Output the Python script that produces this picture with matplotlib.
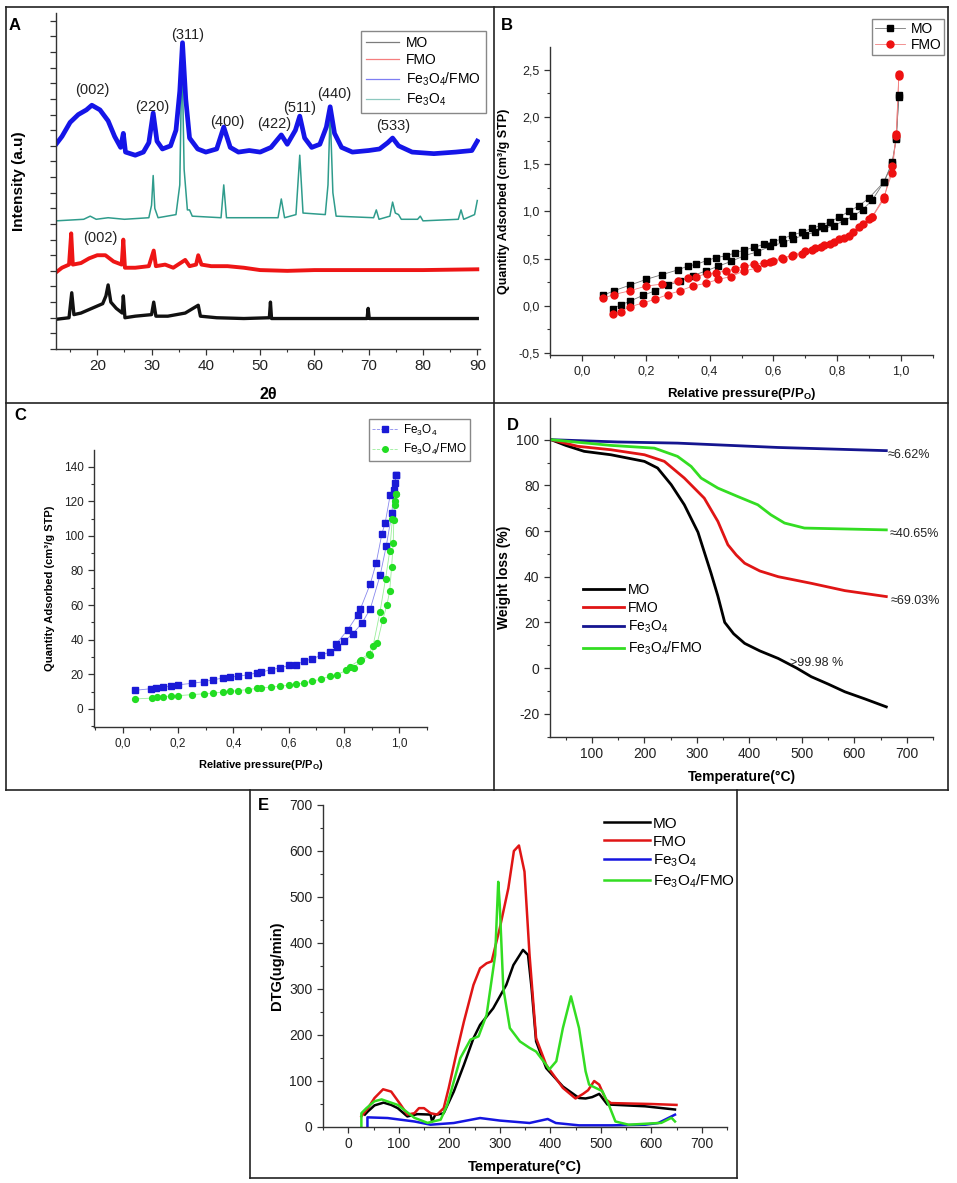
import matplotlib
matplotlib.use("Agg")
import matplotlib.pyplot as plt
from matplotlib.lines import Line2D
from matplotlib.ticker import MultipleLocator, FuncFormatter

plt.rcParams['font.family'] = ['Liberation Sans', 'DejaVu Sans']
plt.rcParams['mathtext.default'] = 'regular'
plt.rcParams['axes.unicode_minus'] = False

# ---------------- data ----------------
# A: XRD patterns (2theta, intensity a.u., stacked)
xrd_mo_x = [12.4, 14.8, 15.3, 15.7, 17, 19, 21, 21.6, 22.0, 22.5, 23.5, 24.6, 24.8, 25.1, 27, 30.0, 30.4,
            30.8, 33, 36.2, 38.6, 39, 42, 47, 51.7, 51.9, 52.1, 60, 69.7, 69.9, 70.1, 80, 90]
xrd_mo_y = [1.9, 2.0, 3.6, 2.2, 2.3, 2.6, 2.9, 3.4, 4.1, 3.0, 2.6, 2.3, 3.4, 2.0, 2.1, 2.2, 3.0,
            2.1, 2.1, 2.3, 2.8, 2.1, 2.0, 1.95, 2.0, 3.0, 1.95, 1.95, 1.95, 2.6, 1.95, 1.95, 1.95]
xrd_fmo_x = [12.4, 13.5, 14.8, 15.2, 15.5, 17, 18.5, 20.0, 21.5, 23, 24.5, 24.8, 25.1, 27, 29.5, 30.4, 30.8,
             32.5, 34, 36.2, 37, 38.2, 38.6, 39.2, 41, 44, 47, 50, 55, 60, 70, 80, 90]
xrd_fmo_y = [4.9, 5.2, 5.4, 7.4, 5.4, 5.5, 5.8, 6.0, 6.0, 5.6, 5.4, 7.0, 5.2, 5.2, 5.3, 6.3, 5.3,
             5.4, 5.2, 5.7, 5.3, 5.4, 6.0, 5.4, 5.3, 5.3, 5.2, 5.05, 5.0, 5.05, 5.05, 5.05, 5.1]
xrd_fe_x = [12.4, 17.5, 18.7, 19.8, 22, 25, 29.5, 30.0, 30.3, 30.6, 31.2, 34.5, 35.2, 35.6, 36.0, 36.6, 37.0,
            37.5, 42.8, 43.3, 43.8, 53.3, 53.9, 54.5, 56.6, 57.3, 57.9, 62.0, 62.5, 62.9, 63.4, 64.0, 70.9,
            71.4, 71.9, 73.9, 74.4, 74.9, 75.5, 76, 79.0, 79.5, 80, 86.5, 87.0, 87.5, 89.5, 90]
xrd_fe_y = [8.2, 8.3, 8.5, 8.3, 8.4, 8.3, 8.4, 9.2, 11.1, 9.0, 8.4, 8.6, 10.5, 19.0, 11.5, 8.9, 8.9,
            8.5, 8.4, 10.5, 8.4, 8.4, 9.6, 8.4, 8.6, 12.4, 8.7, 8.6, 10.5, 15.2, 10.0, 8.5, 8.4,
            8.9, 8.3, 8.5, 9.4, 8.7, 8.6, 8.3, 8.3, 8.5, 8.2, 8.3, 8.9, 8.3, 8.6, 9.5]
xrd_fefmo_x = [12.4, 13.5, 15.0, 16.5, 18.0, 19.0, 20.5, 22.0, 23.2, 24.3, 24.8, 25.2, 27.0, 28.5, 29.5, 30.3,
               31.0, 32.0, 33.5, 34.5, 35.2, 35.7, 36.3, 37.0, 38.5, 40.0, 42.0, 43.3, 44.5, 46.0, 48.0,
               50.0, 52.0, 53.9, 55.0, 56.5, 57.3, 58.2, 59.5, 61.0, 62.2, 62.9, 63.7, 65.0, 67.0, 70.0,
               72.0, 73.5, 74.4, 75.5, 78.0, 82.0, 86.0, 89.0, 90.0]
xrd_fefmo_y = [13.1, 13.6, 14.5, 15.0, 15.3, 15.6, 15.3, 14.6, 13.6, 12.9, 13.8, 12.6, 12.4, 12.6, 13.2, 15.1,
               13.3, 12.8, 13.0, 14.0, 16.5, 19.6, 16.0, 13.5, 12.8, 12.6, 12.8, 14.2, 12.9, 12.6, 12.7,
               12.6, 12.9, 13.7, 13.1, 14.0, 14.9, 13.5, 12.9, 13.1, 14.2, 15.5, 13.8, 12.9, 12.6, 12.7,
               12.8, 13.2, 13.5, 13.0, 12.6, 12.5, 12.6, 12.7, 13.3]
peak_labels = ['(002)', '(220)', '(311)', '(400)', '(422)', '(511)', '(440)', '(533)', '(002)']
peak_x = [19.1, 30.1, 36.6, 43.9, 52.6, 57.2, 63.6, 74.5, 20.6]
peak_y = [16.6, 15.5, 20.1, 14.55, 14.4, 15.4, 16.3, 14.3, 7.1]

# B: N2 isotherms, MO and FMO
b_mo_des_p = [0.066, 0.10, 0.151, 0.201, 0.25, 0.30, 0.331, 0.359, 0.391, 0.42, 0.451, 0.48, 0.508, 0.54,
              0.569, 0.599, 0.628, 0.659, 0.69, 0.72, 0.748, 0.776, 0.807, 0.836, 0.868, 0.899, 0.946,
              0.972, 0.985, 0.993]
b_mo_des_q = [0.11, 0.16, 0.22, 0.28, 0.33, 0.38, 0.42, 0.44, 0.48, 0.51, 0.53, 0.56, 0.59, 0.62, 0.65,
              0.68, 0.71, 0.75, 0.78, 0.82, 0.85, 0.89, 0.94, 1.00, 1.06, 1.14, 1.31, 1.52, 1.78, 2.23]
b_mo_ads_p = [0.097, 0.121, 0.151, 0.19, 0.23, 0.269, 0.308, 0.347, 0.389, 0.427, 0.467, 0.508, 0.548,
              0.59, 0.63, 0.66, 0.70, 0.73, 0.76, 0.79, 0.82, 0.85, 0.88, 0.91, 0.946, 0.972, 0.985, 0.993]
b_mo_ads_q = [-0.03, 0.01, 0.05, 0.11, 0.16, 0.22, 0.26, 0.32, 0.37, 0.42, 0.47, 0.53, 0.57,
              0.63, 0.67, 0.71, 0.75, 0.78, 0.82, 0.85, 0.90, 0.95, 1.02, 1.12, 1.31, 1.50, 1.77, 2.21]
b_fmo_des_p = [0.066, 0.10, 0.151, 0.201, 0.25, 0.30, 0.331, 0.359, 0.391, 0.42, 0.451, 0.48, 0.508, 0.54,
               0.569, 0.599, 0.628, 0.659, 0.69, 0.72, 0.748, 0.776, 0.807, 0.836, 0.868, 0.899, 0.909,
               0.946, 0.972, 0.985, 0.993]
b_fmo_des_q = [0.08, 0.12, 0.16, 0.21, 0.23, 0.26, 0.29, 0.31, 0.34, 0.35, 0.37, 0.39, 0.42, 0.44, 0.45,
               0.48, 0.51, 0.53, 0.55, 0.59, 0.62, 0.66, 0.71, 0.74, 0.83, 0.92, 0.94, 1.15, 1.41, 1.82, 2.45]
b_fmo_ads_p = [0.097, 0.121, 0.151, 0.19, 0.23, 0.269, 0.308, 0.347, 0.389, 0.427, 0.467, 0.508, 0.548,
               0.59, 0.63, 0.66, 0.70, 0.73, 0.76, 0.79, 0.82, 0.85, 0.88, 0.91, 0.946, 0.972, 0.985, 0.993]
b_fmo_ads_q = [-0.09, -0.06, -0.01, 0.03, 0.07, 0.12, 0.16, 0.21, 0.24, 0.28, 0.31, 0.37, 0.40,
               0.46, 0.50, 0.54, 0.58, 0.61, 0.64, 0.68, 0.72, 0.78, 0.87, 0.94, 1.13, 1.48, 1.80, 2.43]

# C: N2 isotherms, Fe3O4 and Fe3O4/FMO
c_fe_ads_p = [0.045, 0.101, 0.119, 0.145, 0.174, 0.201, 0.25, 0.294, 0.328, 0.364, 0.388, 0.415, 0.451,
              0.485, 0.50, 0.536, 0.569, 0.60, 0.626, 0.654, 0.685, 0.717, 0.748, 0.774, 0.80, 0.832,
              0.865, 0.895, 0.931, 0.953, 0.973, 0.979, 0.989]
c_fe_ads_q = [10.8, 11.7, 12.1, 12.7, 13.1, 14.0, 14.8, 15.8, 16.9, 17.9, 18.5, 18.8, 19.8,
              20.8, 21.3, 22.7, 23.7, 25.2, 25.6, 27.5, 29.0, 31.0, 32.9, 35.8, 39.0, 43.5,
              49.6, 57.9, 77.5, 94.4, 113.0, 126.5, 135.2]
c_fe_des_p = [0.772, 0.814, 0.849, 0.859, 0.895, 0.916, 0.937, 0.949, 0.967, 0.983, 0.989]
c_fe_des_q = [37.7, 45.8, 54.4, 57.7, 72.3, 84.2, 101.2, 107.7, 123.7, 130.4, 135.2]
c_fefmo_ads_p = [0.045, 0.105, 0.123, 0.145, 0.174, 0.201, 0.25, 0.294, 0.328, 0.362, 0.388, 0.415, 0.451,
                 0.485, 0.50, 0.536, 0.569, 0.60, 0.626, 0.654, 0.685, 0.717, 0.748, 0.774, 0.808, 0.835,
                 0.859, 0.895, 0.92, 0.94, 0.955, 0.965, 0.972, 0.978, 0.98, 0.985, 0.989]
c_fefmo_ads_q = [5.8, 6.3, 6.7, 7.1, 7.5, 7.7, 8.3, 8.8, 9.2, 9.8, 10.2, 10.6, 11.2,
                 11.9, 12.1, 12.7, 13.1, 13.8, 14.4, 15.0, 16.0, 17.3, 18.8, 19.8, 22.3, 23.7,
                 27.5, 31.3, 38.0, 51.5, 60.0, 68.0, 82.0, 96.0, 109.0, 118.0, 124.0]
c_fefmo_des_p = [0.82, 0.86, 0.89, 0.905, 0.93, 0.95, 0.965, 0.975, 0.985, 0.989]
c_fefmo_des_q = [24.5, 28.5, 32.0, 36.5, 56.0, 75.0, 91.0, 110.0, 120.0, 124.0]

# D: TGA
d_mo_t = [22, 50, 85, 136, 200, 225, 251, 276, 302, 327, 340, 353, 370, 391, 420, 455, 490, 518, 550, 582, 620, 661]
d_mo_w = [100, 97.5, 94.9, 93.4, 90.5, 87.6, 80.3, 71.5, 59.5, 41.5, 31.5, 20, 15, 10.8, 7.5, 4.2, 0, -3.8,
          -7, -10.4, -13.5, -17]
d_fmo_t = [22, 73, 136, 200, 238, 276, 314, 340, 359, 375, 391, 420, 455, 518, 582, 661]
d_fmo_w = [100, 97.1, 95.6, 93.4, 90.5, 83.2, 74.4, 64.2, 54, 49.5, 45.9, 42.5, 40, 37.1, 33.9, 31.3]
d_fe_t = [22, 150, 263, 454, 661]
d_fe_w = [100, 99, 98.5, 96.6, 95.2]
d_fefmo_t = [22, 136, 219, 263, 289, 308, 340, 378, 416, 441, 467, 505, 661]
d_fefmo_w = [100, 97.5, 96.3, 92.7, 88.3, 83.2, 78.8, 75.1, 71.5, 67.1, 63.5, 61.3, 60.5]
d_notes = ['\u22486.62%', '\u224840.65%', '\u224869.03%', '>99.98 %']
d_note_t = [664, 668, 670, 478]
d_note_w = [93.5, 58.5, 29.5, 2.3]

# E: DTG
e_mo_t = [33, 39, 52, 70, 85, 98, 117, 137, 163, 166, 172, 189, 209, 229, 248, 261, 287, 313, 327, 346,
          356, 363, 372, 392, 425, 457, 470, 483, 497, 513, 588, 647]
e_mo_d = [27, 34, 47, 53, 48, 41, 23, 28, 27, 12, 26, 30, 77, 135, 193, 222, 258, 309, 352, 385,
          374, 302, 186, 128, 88, 63, 62, 65, 72, 49, 45, 38]
e_fmo_t = [26, 39, 52, 69, 85, 104, 117, 131, 140, 150, 163, 176, 189, 199, 215, 229, 248, 261, 274, 284,
           300, 317, 328, 338, 349, 359, 372, 392, 425, 450, 465, 475, 487, 497, 510, 520, 600, 650]
e_fmo_d = [23, 41, 63, 82, 77, 48, 27, 30, 41, 41, 30, 27, 41, 85, 164, 229, 309, 345, 356, 360,
           432, 519, 600, 612, 555, 374, 193, 135, 85, 62, 72, 80, 100, 92, 60, 52, 50, 48]
e_fe_t = [38, 38, 78, 131, 163, 209, 261, 300, 359, 395, 411, 457, 522, 588, 614, 647]
e_fe_d = [0, 21, 19.5, 12, 5, 8.7, 19.5, 14, 8.7, 17.4, 8.7, 3.6, 3.6, 5, 8.7, 26.8]
e_fefmo_t = [26, 26, 36, 52, 66, 98, 131, 157, 183, 196, 222, 242, 258, 274, 291, 297, 300, 307, 320, 340,
             359, 372, 392, 398, 412, 425, 441, 457, 470, 477, 490, 503, 516, 529, 555, 620, 640, 647]
e_fefmo_d = [0, 30, 41, 56, 60, 48, 20, 9, 16, 48, 150, 190, 197, 244, 374, 533, 483, 302, 215, 186,
             172, 164, 135, 125, 143, 215, 284, 215, 121, 92, 85, 78, 48, 12, 5, 9, 20, 12]

# ---------------- figure ----------------
fig = plt.figure(figsize=(9.57, 11.83), dpi=100)
W, H = 957.0, 1183.0


def px_axes(x0, x1, y0, y1):
    return fig.add_axes([x0 / W, 1 - y1 / H, (x1 - x0) / W, (y1 - y0) / H])


def origin_style(ax, size):
    ax.spines['top'].set_visible(False)
    ax.spines['right'].set_visible(False)
    for s in ('left', 'bottom'):
        ax.spines[s].set_linewidth(1.0)
        ax.spines[s].set_color('#333333')
    ax.tick_params(which='major', direction='out', length=4, width=0.9, labelsize=size,
                   colors='#333333', labelcolor='#222222')
    ax.tick_params(which='minor', direction='out', length=2.5, width=0.8, colors='#333333')
    ax.patch.set_alpha(0)


comma = FuncFormatter(lambda v, p: ('%.1f' % v).replace('.', ','))

# panel frames
frame_kw = dict(color='#222222', lw=1.2, transform=fig.transFigure)
for xs, ys in [((6, 948), (7, 7)), ((6, 948), (403, 403)), ((6, 948), (790, 790)),
               ((6, 6), (7, 790)), ((494, 494), (7, 790)), ((948, 948), (7, 790)),
               ((250, 737), (1178, 1178)), ((250, 250), (790, 1178)), ((737, 737), (790, 1178))]:
    fig.add_artist(Line2D([x / W for x in xs], [1 - y / H for y in ys], **frame_kw))

for lab, (x, y) in zip('ABCDE', [(15, 25), (507, 25), (20, 415), (513, 425), (263, 805)]):
    fig.text(x / W, 1 - y / H, lab, fontsize=12, fontweight='bold', ha='center', va='center')

# ---- A ----
axA = px_axes(56, 480, 13, 349)
origin_style(axA, 11)
c_mo, c_fmo, c_fefmo, c_fe = '#111111', '#ee1515', '#1515e8', '#2f9c8c'
axA.plot(xrd_mo_x, xrd_mo_y, color=c_mo, lw=2.4)
axA.plot(xrd_fmo_x, xrd_fmo_y, color=c_fmo, lw=2.8)
axA.plot(xrd_fe_x, xrd_fe_y, color=c_fe, lw=1.1)
axA.plot(xrd_fefmo_x, xrd_fefmo_y, color=c_fefmo, lw=3.4)
for t, x, y in zip(peak_labels, peak_x, peak_y):
    axA.text(x, y, t, fontsize=10.5, ha='center', va='center', color='#222222')
axA.set_xlim(12.4, 90.5)
axA.set_ylim(0, 21.5)
axA.xaxis.set_major_locator(MultipleLocator(10))
axA.xaxis.set_minor_locator(MultipleLocator(5))
axA.yaxis.set_major_locator(MultipleLocator(1))
axA.set_yticklabels([])
axA.set_xlabel('2\u03b8', fontsize=11.5, fontweight='bold', labelpad=10)
axA.set_ylabel('Intensity (a.u)', fontsize=11, fontweight='bold', labelpad=14)
hA = [Line2D([], [], color=c, lw=0.9, alpha=0.55) for c in (c_mo, c_fmo, c_fefmo, c_fe)]
fig.legend(hA, ['MO', 'FMO', 'Fe$_3$O$_4$/FMO', 'Fe$_3$O$_4$'], loc='upper left',
           bbox_to_anchor=(354 / W, 1 - 24 / H), fontsize=10, frameon=True, fancybox=False,
           edgecolor='#888888', framealpha=1, handlelength=2.4, labelspacing=0.25, borderpad=0.35,
           handletextpad=0.5)

# ---- B ----
axB = px_axes(550, 933, 47, 355)
origin_style(axB, 9)
axB.plot(b_mo_des_p, b_mo_des_q, color='#777777', lw=0.6)
axB.plot(b_mo_ads_p, b_mo_ads_q, color='#777777', lw=0.6)
axB.plot(b_fmo_des_p, b_fmo_des_q, color='#f08080', lw=0.6)
axB.plot(b_fmo_ads_p, b_fmo_ads_q, color='#f08080', lw=0.6)
for p, q in ((b_mo_des_p, b_mo_des_q), (b_mo_ads_p, b_mo_ads_q)):
    axB.plot(p, q, 's', color='black', ms=4.5, zorder=3)
for p, q in ((b_fmo_des_p, b_fmo_des_q), (b_fmo_ads_p, b_fmo_ads_q)):
    axB.plot(p, q, 'o', color='#ee1111', ms=5, zorder=3)
axB.set_xlim(-0.1, 1.1)
axB.set_ylim(-0.52, 2.74)
axB.xaxis.set_major_locator(MultipleLocator(0.2))
axB.xaxis.set_minor_locator(MultipleLocator(0.1))
axB.yaxis.set_major_locator(MultipleLocator(0.5))
axB.yaxis.set_minor_locator(MultipleLocator(0.25))
axB.xaxis.set_major_formatter(comma)
axB.yaxis.set_major_formatter(comma)
axB.set_xlabel('Relative pressure(P/P$_O$)', fontsize=9.5, fontweight='bold', labelpad=6)
axB.set_ylabel('Quantity Adsorbed (cm\u00b3/g STP)', fontsize=9, fontweight='bold', labelpad=6)
hB = [Line2D([], [], color='#777777', lw=0.6, marker='s', mfc='black', mec='black', ms=5),
      Line2D([], [], color='#f08080', lw=0.6, marker='o', mfc='#ee1111', mec='#ee1111', ms=5)]
fig.legend(hB, ['MO', 'FMO'], loc='upper left', bbox_to_anchor=(865 / W, 1 - 12 / H),
           fontsize=10, frameon=True, fancybox=False, edgecolor='#888888', framealpha=1,
           handlelength=2.2, labelspacing=0.15, borderpad=0.2, handletextpad=0.4)

# ---- C ----
axC = px_axes(94, 427, 450, 727)
origin_style(axC, 8.5)
axC.plot(c_fe_ads_p, c_fe_ads_q, color='#8888ee', lw=0.6)
axC.plot(c_fe_des_p, c_fe_des_q, color='#8888ee', lw=0.6)
axC.plot(c_fefmo_ads_p, c_fefmo_ads_q, color='#99ee99', lw=0.6)
axC.plot(c_fefmo_des_p, c_fefmo_des_q, color='#99ee99', lw=0.6)
for p, q in ((c_fe_ads_p, c_fe_ads_q), (c_fe_des_p, c_fe_des_q)):
    axC.plot(p, q, 's', color='#1a1ad6', ms=4, zorder=3)
for p, q in ((c_fefmo_ads_p, c_fefmo_ads_q), (c_fefmo_des_p, c_fefmo_des_q)):
    axC.plot(p, q, 'o', color='#22dd22', ms=4.2, zorder=3)
axC.set_xlim(-0.104, 1.10)
axC.set_ylim(-10.4, 149.6)
axC.xaxis.set_major_locator(MultipleLocator(0.2))
axC.xaxis.set_minor_locator(MultipleLocator(0.1))
axC.yaxis.set_major_locator(MultipleLocator(20))
axC.yaxis.set_minor_locator(MultipleLocator(10))
axC.xaxis.set_major_formatter(comma)
axC.set_xlabel('Relative pressure(P/P$_O$)', fontsize=8, fontweight='bold', labelpad=6)
axC.set_ylabel('Quantity Adsorbed (cm\u00b3/g STP)', fontsize=8, fontweight='bold', labelpad=6)
hC = [Line2D([], [], color='#8888ee', lw=0.6, ls='--', marker='s', mfc='#1a1ad6', mec='#1a1ad6', ms=4),
      Line2D([], [], color='#99ee99', lw=0.6, ls='--', marker='o', mfc='#22dd22', mec='#22dd22', ms=4)]
fig.legend(hC, ['Fe$_3$O$_4$', 'Fe$_3$O$_4$/FMO'], loc='upper left', bbox_to_anchor=(363 / W, 1 - 413 / H),
           fontsize=8.5, frameon=True, fancybox=False, edgecolor='#888888', framealpha=1,
           handlelength=2.2, labelspacing=0.4, borderpad=0.3, handletextpad=0.4)

# ---- D ----
axD = px_axes(550, 933, 418, 737)
origin_style(axD, 10)
axD.plot(d_mo_t, d_mo_w, color='black', lw=2)
axD.plot(d_fmo_t, d_fmo_w, color='#e01515', lw=2)
axD.plot(d_fe_t, d_fe_w, color='#151590', lw=2)
axD.plot(d_fefmo_t, d_fefmo_w, color='#33dd22', lw=2)
for t, x, y in zip(d_notes, d_note_t, d_note_w):
    axD.text(x, y, t, fontsize=9, ha='left', va='center', color='#222222')
axD.set_xlim(20, 750)
axD.set_ylim(-30.2, 109.5)
axD.xaxis.set_major_locator(MultipleLocator(100))
axD.xaxis.set_minor_locator(MultipleLocator(50))
axD.yaxis.set_major_locator(MultipleLocator(20))
axD.yaxis.set_minor_locator(MultipleLocator(10))
axD.set_xticks([100, 200, 300, 400, 500, 600, 700])
axD.set_xlabel('Temperature(\u00b0C)', fontsize=10, fontweight='bold', labelpad=6)
axD.set_ylabel('Weight loss (%)', fontsize=10, fontweight='bold', labelpad=4)
hD = [Line2D([], [], color=c, lw=2) for c in ('black', '#e01515', '#151590', '#33dd22')]
axD.legend(hD, ['MO', 'FMO', 'Fe$_3$O$_4$', 'Fe$_3$O$_4$/FMO'], loc='upper left',
           bbox_to_anchor=(570 / W, 1 - 570 / H), bbox_transform=fig.transFigure, frameon=False,
           fontsize=10, handlelength=3.0, labelspacing=0.3, handletextpad=0.3)

# ---- E ----
axE = px_axes(323, 727, 805, 1127)
origin_style(axE, 10)
axE.plot(e_mo_t, e_mo_d, color='black', lw=1.8)
axE.plot(e_fmo_t, e_fmo_d, color='#e01515', lw=1.8)
axE.plot(e_fe_t, e_fe_d, color='#1515e0', lw=1.8)
axE.plot(e_fefmo_t, e_fefmo_d, color='#33dd22', lw=1.8)
axE.set_xlim(-50, 750)
axE.set_ylim(0, 700)
axE.set_xticks([0, 100, 200, 300, 400, 500, 600, 700])
axE.xaxis.set_minor_locator(MultipleLocator(50))
axE.yaxis.set_major_locator(MultipleLocator(100))
axE.yaxis.set_minor_locator(MultipleLocator(50))
axE.set_xlabel('Temperature(\u00b0C)', fontsize=10.5, fontweight='bold', labelpad=6)
axE.set_ylabel('DTG(ug/min)', fontsize=10.5, fontweight='bold', labelpad=4)
hE = [Line2D([], [], color=c, lw=1.8) for c in ('black', '#e01515', '#1515e0', '#33dd22')]
axE.legend(hE, ['MO', 'FMO', 'Fe$_3$O$_4$', 'Fe$_3$O$_4$/FMO'], loc='upper left',
           bbox_to_anchor=(590 / W, 1 - 803 / H), bbox_transform=fig.transFigure, frameon=False,
           fontsize=11, handlelength=3.0, labelspacing=0.25, handletextpad=0.2)

fig.savefig('out.png', dpi=100)
